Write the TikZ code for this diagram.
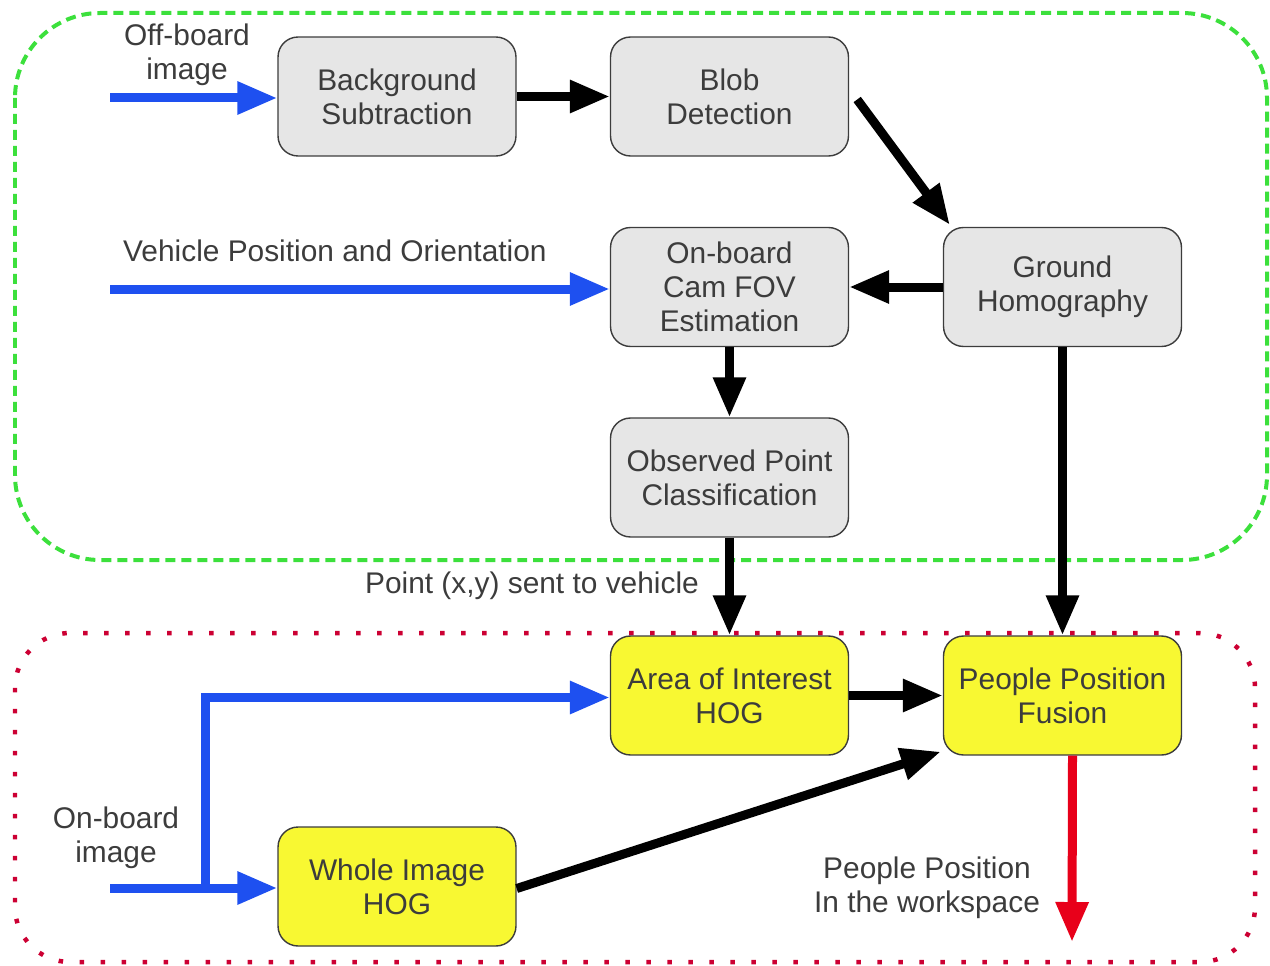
\documentclass[tikz,border=0pt]{standalone}
\usepackage{fontspec}
\setmainfont{Liberation Sans}
\usetikzlibrary{arrows.meta, calc, positioning}

\definecolor{txtgray}{HTML}{3C3C3C}
\definecolor{boxgray}{HTML}{E6E6E6}
\definecolor{hogyellow}{HTML}{F8F832}
\definecolor{flowblue}{HTML}{1E50F0}
\definecolor{outred}{HTML}{E8001A}
\definecolor{zonegreen}{HTML}{3CE03C}
\definecolor{zonered}{HTML}{CC0033}

\begin{document}
\begin{tikzpicture}[
    x=0.02cm, y=-0.02cm,
    >={Triangle[length=0.8cm, width=0.62cm]},
    every node/.style={font=\fontsize{17}{19.5}\selectfont, text=txtgray},
    procbox/.style={draw=txtgray, line width=0.8pt, rounded corners=0.4cm,
        fill=boxgray, minimum width=4.76cm, minimum height=2.38cm, align=center},
    hogbox/.style={procbox, fill=hogyellow},
    blackarr/.style={->, line width=0.18cm, black},
    bluearr/.style={->, line width=0.18cm, flowblue},
    redarr/.style={->, line width=0.18cm, outred}
]

\useasboundingbox (0,0) rectangle (1270,966);

% Off-board zone (green dashed) and on-board zone (red dotted)
\draw[zonegreen, line width=0.08cm, dash pattern=on 0.2cm off 0.12cm, rounded corners=1.7cm]
    (15,13) rectangle (1267,560);
\draw[zonered, line width=0.09cm, dash pattern=on 0.09cm off 0.33cm, rounded corners=1.1cm]
    (15,633) rectangle (1255,962);

% Processing blocks (off-board)
\node[procbox] (bgsub)  at (397,96.5)   {Background\\Subtraction};
\node[procbox] (blob)   at (729.5,96.5) {Blob\\Detection};
\node[procbox] (camfov) at (729.5,287)  {On-board\\Cam FOV\\Estimation};
\node[procbox] (ghomog) at (1062.5,287) {Ground\\Homography};
\node[procbox] (obsclass) at (729.5,477.5) {Observed Point\\Classification};

% Processing blocks (on-board)
\node[hogbox] (aoihog)   at (729.5,695.5)  {Area of Interest\\HOG};
\node[hogbox] (fusion)   at (1062.5,695.5) {People Position\\Fusion};
\node[hogbox] (wholehog) at (397,886.5)    {Whole Image\\HOG};

% Inputs and outputs
\coordinate (offin)  at (110,98);
\coordinate (vehin)  at (110,289);
\coordinate (onin)   at (110,888);
\coordinate (split)  at (205,888);
\coordinate (outpt)  at (1072,942);

\node[align=center] (offlbl) at (187,55) {Off-board\\image};
\node[anchor=west] (vehlbl) at (117,251) {Vehicle Position and Orientation};
\node[anchor=east] (ptlbl) at (705,586) {Point (x,y) sent to vehicle};
\node[align=center] (onlbl) at (116,838) {On-board\\image};
\node[align=center] (outlbl) at (927,888) {People Position\\In the workspace};

% Blue input arrows
\draw[bluearr] (offin) -- (bgsub.west |- offin);
\draw[bluearr] (vehin) -- (camfov.west |- vehin);
\draw[bluearr] (onin) -- (wholehog.west |- onin);
\draw[bluearr] (split) |- ($(aoihog.west)+(0,2)$);

% Black data flow
\draw[blackarr] (bgsub.east) -- (blob.west);
\draw[blackarr] ($(blob.east)+(8,3)$) -- ($(ghomog.north west)+(7,-2)$);
\draw[blackarr] (ghomog.west) -- (camfov.east);
\draw[blackarr] (camfov.south) -- (obsclass.north);
\draw[blackarr] (obsclass.south) -- (aoihog.north);
\draw[blackarr] (ghomog.south) -- (fusion.north);
\draw[blackarr] (aoihog.east) -- (fusion.west);
\draw[blackarr] ($(wholehog.east)+(0,2)$) -- ($(fusion.south west)+(-2,-4)$);

% Output
\draw[redarr] ($(fusion.south)+(10,0)$) -- (outpt);

\end{tikzpicture}
\end{document}
